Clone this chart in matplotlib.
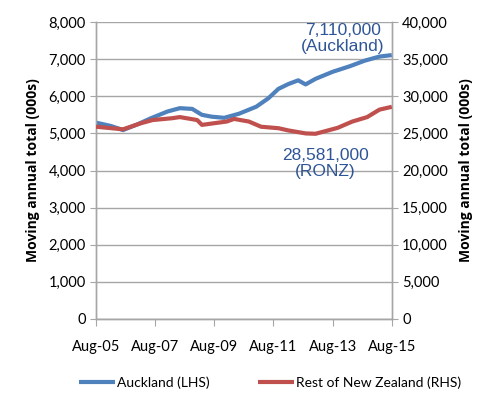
import pandas as pd
import matplotlib
matplotlib.use("Agg")
import matplotlib.pyplot as plt
import matplotlib.dates as mdates
from matplotlib.ticker import FuncFormatter, MultipleLocator

# Auckland, moving annual total (000s), left axis
akl_dates = ["2005-08", "2006-02", "2006-07", "2007-01", "2007-06", "2008-01",
             "2008-06", "2008-11", "2009-03", "2009-07", "2009-12", "2010-06",
             "2011-01", "2011-06", "2011-10", "2012-02", "2012-06", "2012-09",
             "2013-01", "2013-08", "2014-03", "2014-09", "2015-03", "2015-08"]
akl_values = [5290, 5200, 5090, 5250, 5400, 5590, 5680, 5660, 5500, 5450,
              5420, 5530, 5720, 5950, 6200, 6330, 6430, 6320, 6470, 6660,
              6810, 6960, 7070, 7110]

# Rest of New Zealand, moving annual total (000s), right axis
ronz_dates = ["2005-08", "2006-07", "2007-02", "2007-07", "2008-03", "2008-06",
              "2009-01", "2009-03", "2010-01", "2010-04", "2010-10", "2011-03",
              "2011-10", "2012-02", "2012-09", "2013-01", "2013-05", "2013-10",
              "2014-04", "2014-10", "2015-03", "2015-08"]
ronz_values = [25900, 25550, 26350, 26800, 27050, 27200, 26800, 26150, 26600,
               26950, 26600, 25900, 25700, 25400, 25000, 24950, 25300, 25750,
               26600, 27200, 28200, 28581]

BLUE = "#4F81BD"
RED = "#C0504D"
GRID = "#A6A6A6"
TEXT_BLUE = "#2F5597"
FONT = ["Lato", "DejaVu Sans"]

plt.rcParams["font.family"] = FONT

fig = plt.figure(figsize=(4.91, 4.01), dpi=100)
ax = fig.add_axes([0.1955, 0.2045, 0.6025, 0.7405])
ax2 = ax.twinx()

ax.plot(pd.to_datetime(akl_dates), akl_values, color=BLUE, lw=3,
        solid_capstyle="butt", label="Auckland (LHS)", zorder=3)
ax2.plot(pd.to_datetime(ronz_dates), ronz_values, color=RED, lw=3,
         solid_capstyle="butt", label="Rest of New Zealand (RHS)", zorder=3)

ax.set_ylim(0, 8000)
ax2.set_ylim(0, 40000)
ax.yaxis.set_major_locator(MultipleLocator(1000))
ax2.yaxis.set_major_locator(MultipleLocator(5000))
fmt = FuncFormatter(lambda v, p: f"{v:,.0f}")
ax.yaxis.set_major_formatter(fmt)
ax2.yaxis.set_major_formatter(fmt)

ax.set_xlim(pd.Timestamp("2005-08-01"), pd.Timestamp("2015-08-01"))
ax.xaxis.set_major_locator(mdates.MonthLocator(bymonth=8, bymonthday=1, interval=24))
ax.xaxis.set_major_formatter(mdates.DateFormatter("%b-%y"))

ax.grid(axis="y", color=GRID, lw=1)
ax.set_axisbelow(True)
for a in (ax, ax2):
    a.spines["top"].set_visible(False)
    for s in ("left", "right", "bottom"):
        a.spines[s].set_color(GRID)
        a.spines[s].set_linewidth(1)
    a.tick_params(colors=GRID, labelcolor="black", labelsize=10.5, length=4)
ax.tick_params(axis="x", length=5, pad=10)

ylab = dict(fontsize=10, fontweight="bold", family=["Open Sans", "DejaVu Sans"])
ax.set_ylabel("Moving annual total (000s)", labelpad=6, **ylab)
ax2.set_ylabel("Moving annual total (000s)", labelpad=8, rotation=90, **ylab)

ax2.text(0.835, 0.997, "7,110,000\n(Auckland)", transform=ax.transAxes,
         ha="center", va="top", color=TEXT_BLUE, fontsize=12.5,
         family=["Liberation Sans", "DejaVu Sans"], linespacing=1.05)
ax2.text(0.775, 0.575, "28,581,000\n(RONZ)", transform=ax.transAxes,
         ha="center", va="top", color=TEXT_BLUE, fontsize=12.5,
         family=["Liberation Sans", "DejaVu Sans"], linespacing=1.05)

h1, l1 = ax.get_legend_handles_labels()
h2, l2 = ax2.get_legend_handles_labels()
fig.legend(h1 + h2, l1 + l2, loc="center", bbox_to_anchor=(0.55, 0.045),
           ncol=2, frameon=False, fontsize=10, handlelength=2.6,
           handletextpad=0.1, columnspacing=3.5)

fig.savefig("out.png", dpi=100)
